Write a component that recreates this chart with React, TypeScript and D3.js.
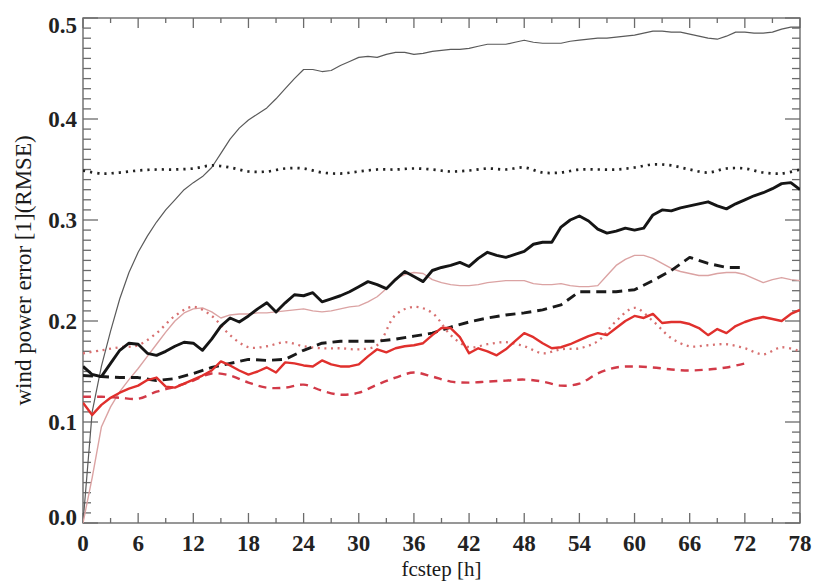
import React from "react";
import * as d3 from "d3";

const W = 825;
const H = 581;

// hourly forecast steps
const hours = d3.range(0, 79);
const hours2 = d3.range(0, 79, 2);
const hours2to72 = d3.range(0, 73, 2);

// thin dark grey solid
const greyThin = [
  0, 0.11, 0.155, 0.19, 0.222, 0.248, 0.268, 0.284, 0.298, 0.31,
  0.32, 0.33, 0.337, 0.343, 0.352, 0.366, 0.38, 0.391, 0.399, 0.405,
  0.411, 0.42, 0.43, 0.44, 0.449, 0.449, 0.447, 0.448, 0.453, 0.457,
  0.461, 0.462, 0.461, 0.464, 0.466, 0.466, 0.464, 0.465, 0.467, 0.468,
  0.469, 0.469, 0.47, 0.472, 0.474, 0.474, 0.474, 0.476, 0.478, 0.476,
  0.475, 0.475, 0.475, 0.477, 0.478, 0.479, 0.48, 0.48, 0.481, 0.482,
  0.483, 0.485, 0.487, 0.487, 0.486, 0.486, 0.484, 0.482, 0.48, 0.479,
  0.482, 0.486, 0.486, 0.485, 0.485, 0.486, 0.489, 0.491, 0.491,
];

// thick black solid
const blackThick = [
  0.155, 0.147, 0.145, 0.158, 0.171, 0.178, 0.177, 0.168, 0.166, 0.17,
  0.175, 0.179, 0.178, 0.171, 0.182, 0.195, 0.203, 0.199, 0.205, 0.212,
  0.218, 0.209, 0.218, 0.226, 0.225, 0.228, 0.219, 0.222, 0.225, 0.229,
  0.234, 0.239, 0.236, 0.232, 0.241, 0.249, 0.244, 0.239, 0.25, 0.253,
  0.255, 0.258, 0.254, 0.262, 0.268, 0.265, 0.263, 0.266, 0.269, 0.276,
  0.278, 0.278, 0.293, 0.3, 0.304, 0.299, 0.291, 0.287, 0.289, 0.292,
  0.29, 0.292, 0.305, 0.31, 0.309, 0.312, 0.314, 0.316, 0.318, 0.314,
  0.311, 0.316, 0.32, 0.324, 0.327, 0.331, 0.336, 0.337, 0.33,
];

// thick red solid
const redThick = [
  0.119, 0.107, 0.117, 0.124, 0.129, 0.133, 0.136, 0.1415, 0.144, 0.135,
  0.134, 0.138, 0.142, 0.146, 0.151, 0.16, 0.156, 0.151, 0.147, 0.15,
  0.154, 0.149, 0.159, 0.158, 0.156, 0.155, 0.161, 0.157, 0.155, 0.155,
  0.157, 0.165, 0.172, 0.169, 0.173, 0.175, 0.176, 0.178, 0.186, 0.193,
  0.193, 0.184, 0.168, 0.173, 0.17, 0.166, 0.172, 0.18, 0.188, 0.184,
  0.178, 0.173, 0.174, 0.177, 0.181, 0.185, 0.188, 0.186, 0.193, 0.2,
  0.205, 0.203, 0.207, 0.198, 0.199, 0.199, 0.197, 0.193, 0.186, 0.192,
  0.188, 0.195, 0.199, 0.202, 0.204, 0.202, 0.2, 0.207, 0.211,
];

// thin light red solid
const redThin = [
  0, 0.045, 0.095, 0.115, 0.13, 0.142, 0.153, 0.165, 0.177, 0.189,
  0.2, 0.208, 0.212, 0.213, 0.209, 0.203, 0.206, 0.207, 0.207, 0.208,
  0.208, 0.209, 0.21, 0.211, 0.212, 0.21, 0.209, 0.21, 0.212, 0.214,
  0.215, 0.219, 0.224, 0.232, 0.242, 0.246, 0.248, 0.247, 0.241, 0.238,
  0.236, 0.235, 0.235, 0.236, 0.238, 0.239, 0.24, 0.24, 0.24, 0.237,
  0.236, 0.236, 0.237, 0.235, 0.234, 0.234, 0.235, 0.245, 0.255, 0.261,
  0.265, 0.265, 0.262, 0.257, 0.252, 0.249, 0.247, 0.245, 0.245, 0.247,
  0.248, 0.248, 0.246, 0.242, 0.238, 0.241, 0.243, 0.241, 0.24,
];

// black dotted (every 2 h)
const blackDotted = [
  0.349, 0.346, 0.347, 0.349, 0.35, 0.35, 0.351, 0.354, 0.352, 0.348,
  0.348, 0.351, 0.351, 0.347, 0.346, 0.348, 0.35, 0.35, 0.351, 0.35,
  0.348, 0.349, 0.351, 0.35, 0.352, 0.347, 0.347, 0.35, 0.35, 0.35,
  0.352, 0.355, 0.354, 0.35, 0.347, 0.351, 0.351, 0.347, 0.346, 0.35,
];

// red dotted (every 2 h)
const redDotted = [
  0.168, 0.171, 0.174, 0.176, 0.188, 0.205, 0.214, 0.205, 0.186, 0.174,
  0.175, 0.179, 0.175, 0.173, 0.173, 0.172, 0.176, 0.206, 0.214, 0.208,
  0.186, 0.174, 0.177, 0.179, 0.175, 0.168, 0.172, 0.173, 0.18, 0.2,
  0.213, 0.2, 0.183, 0.175, 0.176, 0.177, 0.173, 0.167, 0.174, 0.17,
];

// black dashed (every 2 h, up to 72 h)
const blackDashed = [
  0.146, 0.145, 0.144, 0.144, 0.141, 0.143, 0.148, 0.154, 0.158, 0.162,
  0.161, 0.162, 0.171, 0.178, 0.18, 0.18, 0.18, 0.182, 0.185, 0.188,
  0.194, 0.199, 0.203, 0.206, 0.208, 0.211, 0.216, 0.229, 0.229, 0.229,
  0.231, 0.24, 0.25, 0.263, 0.257, 0.253, 0.253,
];

// red dashed (every 2 h, up to 72 h)
const redDashed = [
  0.125, 0.125, 0.124, 0.123, 0.13, 0.135, 0.141, 0.148, 0.146, 0.139,
  0.134, 0.134, 0.137, 0.131, 0.127, 0.129, 0.137, 0.144, 0.149, 0.145,
  0.14, 0.139, 0.14, 0.141, 0.142, 0.14, 0.136, 0.138, 0.148, 0.154,
  0.155, 0.154, 0.152, 0.151, 0.152, 0.154, 0.158,
];

const xTickValues = d3.range(0, 79, 6);
const yTickLabels = ["0.0", "0.1", "0.2", "0.3", "0.4", "0.5"];
const xTitle = "fcstep [h]";
const yTitle = "wind power error [1](RMSE)";

const L = 83, R = 800, T = 18, B = 523;

export default function App() {
  const x = d3.scaleLinear().domain([0, 78]).range([L, R]);
  const y = d3.scaleLinear().domain([0, 0.5]).range([B, T]);

  const mk = (xs: number[], ys: number[], curve: any) =>
    d3
      .line<number>()
      .x((_, i) => x(xs[i]))
      .y((v) => y(v))
      .curve(curve)(ys) || "";

  const series = [
    { d: mk(hours, greyThin, d3.curveLinear), stroke: "#5a5a5a", w: 1.2, dash: undefined as string | undefined },
    { d: mk(hours, redThin, d3.curveLinear), stroke: "#dba3a3", w: 1.4, dash: undefined },
    { d: mk(hours2, blackDotted, d3.curveCatmullRom), stroke: "#222", w: 2.7, dash: "2.2,5" },
    { d: mk(hours2, redDotted, d3.curveCatmullRom), stroke: "#d77070", w: 2.3, dash: "2,4.6" },
    { d: mk(hours2to72, redDashed, d3.curveCatmullRom), stroke: "#d23a48", w: 2.4, dash: "8,6" },
    { d: mk(hours2to72, blackDashed, d3.curveLinear), stroke: "#1a1a1a", w: 2.9, dash: "10,6" },
    { d: mk(hours, redThick, d3.curveLinear), stroke: "#e0302d", w: 2.4, dash: undefined },
    { d: mk(hours, blackThick, d3.curveLinear), stroke: "#151515", w: 2.9, dash: undefined },
  ];

  const yMinor = d3.range(0, 51).map((i) => i / 100);
  const xMinor = d3.range(0, 79, 3);
  const frame = "#6b6b6b";
  const font = "'Liberation Serif', 'Times New Roman', serif";

  return (
    <svg
      width={W}
      height={H}
      style={{ position: "absolute", left: 0, top: 0, background: "#fff" }}
      fontFamily={font}
    >
      <rect x={0} y={0} width={W} height={H} fill="#fff" />
      <defs>
        <clipPath id="plotclip">
          <rect x={L} y={T - 3} width={R - L} height={B - T + 3} />
        </clipPath>
      </defs>
      {/* y ticks left & right */}
      {yMinor.map((v, i) => {
        const major = i % 10 === 0;
        const len = major ? 15 : 8;
        return (
          <g key={"yt" + i} stroke={frame} strokeWidth={1.3}>
            <line x1={L} x2={L + len} y1={y(v)} y2={y(v)} />
            <line x1={R} x2={R - len} y1={y(v)} y2={y(v)} />
          </g>
        );
      })}
      {/* x ticks bottom & top */}
      {xMinor.map((v, i) => {
        const major = v % 6 === 0;
        const len = major ? 10 : 5;
        return (
          <g key={"xt" + i} stroke={frame} strokeWidth={1.3}>
            <line x1={x(v)} x2={x(v)} y1={B} y2={B - len} />
            <line x1={x(v)} x2={x(v)} y1={T} y2={T + len} />
          </g>
        );
      })}
      <rect x={L} y={T} width={R - L} height={B - T} fill="none" stroke={frame} strokeWidth={1.4} />

      <g clipPath="url(#plotclip)" fill="none" strokeLinejoin="round">
        {series.map((s, i) => (
          <path key={i} d={s.d} stroke={s.stroke} strokeWidth={s.w} strokeDasharray={s.dash} />
        ))}
      </g>

      {/* tick labels */}
      {yTickLabels.map((t, i) => {
        const v = +t;
        let cy = y(v);
        if (i === 0) cy -= 6;
        if (i === yTickLabels.length - 1) cy += 7;
        return (
          <text key={"yl" + i} x={77} y={cy + 8} textAnchor="end" fontSize={23} fontWeight="bold" fill="#222">
            {t}
          </text>
        );
      })}
      {xTickValues.map((v, i) => (
        <text key={"xl" + i} x={x(v)} y={551} textAnchor="middle" fontSize={23} fontWeight="bold" fill="#222">
          {v}
        </text>
      ))}
      <text x={(L + R) / 2} y={576} textAnchor="middle" fontSize={21} fill="#1a1a1a">
        {xTitle}
      </text>
      <text
        transform={`translate(31, ${(T + B) / 2}) rotate(-90)`}
        textAnchor="middle"
        fontSize={23}
        fill="#1a1a1a"
      >
        {yTitle}
      </text>
    </svg>
  );
}
